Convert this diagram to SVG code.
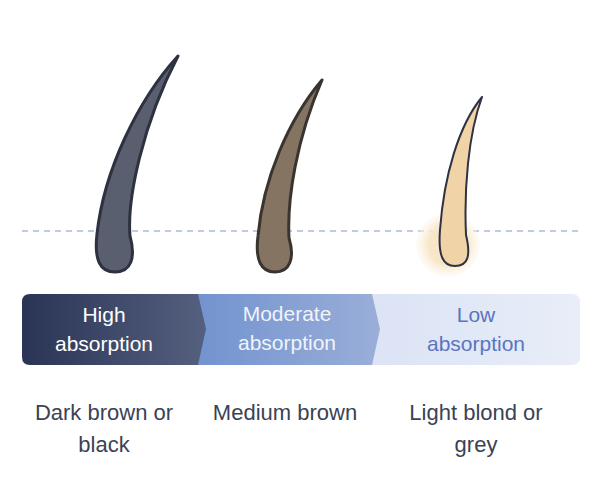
<svg xmlns="http://www.w3.org/2000/svg" width="600" height="490" viewBox="0 0 600 490">
<defs>
<linearGradient id="g1" x1="0" x2="1"><stop offset="0" stop-color="#2a3556"/><stop offset="1" stop-color="#55607f"/></linearGradient>
<linearGradient id="g2" x1="0" x2="1"><stop offset="0" stop-color="#7293cf"/><stop offset="1" stop-color="#9aaed8"/></linearGradient>
<linearGradient id="g3" x1="0" x2="1"><stop offset="0" stop-color="#dbe3f5"/><stop offset="1" stop-color="#e8edf8"/></linearGradient>
<radialGradient id="glow"><stop offset="0.6" stop-color="#f8e6c8"/><stop offset="1" stop-color="#fdf6ea" stop-opacity="0.4"/></radialGradient>
<style>
.t{font-family:"Liberation Sans",Arial,sans-serif;font-size:21px;text-anchor:middle}
.b{font-size:22px}
.w{fill:#ffffff}.l{fill:#5a75bf}.d{fill:#3a4255}
</style>
</defs>
<g id="skin"><line x1="22" y1="231" x2="580" y2="231" stroke="#8098cc" stroke-width="1.2" stroke-dasharray="6,5"/></g>
<g id="hair1"><path d="M178,56 C138,100 104,170 97,234 C94,260 100,272 115,272 C131,272 136,258 130,236 C127,200 142,125 178,56 Z" fill="#5a5f70" stroke="#2e3240" stroke-width="3" stroke-linejoin="round"/></g>
<g id="hair2"><path d="M322,80 C288,120 263,180 258,236 C255,260 261,272 275,272 C290,272 295,258 289,238 C287,200 296,140 322,80 Z" fill="#857462" stroke="#3a3430" stroke-width="3" stroke-linejoin="round"/></g>
<g id="hair3"><circle cx="448" cy="245" r="32" fill="url(#glow)"/><path d="M482,97 C459,125 444,175 440,230 C438,256 443,266 455,266 C468,266 471,256 466,235 C464,190 468,135 482,97 Z" fill="#f0d3a6" stroke="#2e3344" stroke-width="2" stroke-linejoin="round"/></g>
<g id="bar">
<path d="M370,294 H572 Q580,294 580,302 V357 Q580,365 572,365 H370 L378,329 Z" fill="url(#g3)"/>
<path d="M196,294 H372 L380,329 L372,365 H196 L204,329 Z" fill="url(#g2)"/>
<path d="M30,294 H198 L206,329 L198,365 H30 Q22,365 22,357 V302 Q22,294 30,294 Z" fill="url(#g1)"/>
<text class="t w" x="104" y="322">High</text><text class="t w" x="104" y="351">absorption</text>
<text class="t w" x="287" y="321" fill-opacity="0.9">Moderate</text><text class="t w" x="287" y="350" fill-opacity="0.9">absorption</text>
<text class="t l" x="476" y="322">Low</text><text class="t l" x="476" y="351">absorption</text>
</g>
<g id="labels">
<text class="t b d" x="104" y="420">Dark brown or</text><text class="t b d" x="104" y="452">black</text>
<text class="t b d" x="285" y="420">Medium brown</text>
<text class="t b d" x="476" y="420">Light blond or</text><text class="t b d" x="476" y="452">grey</text>
</g>
</svg>
